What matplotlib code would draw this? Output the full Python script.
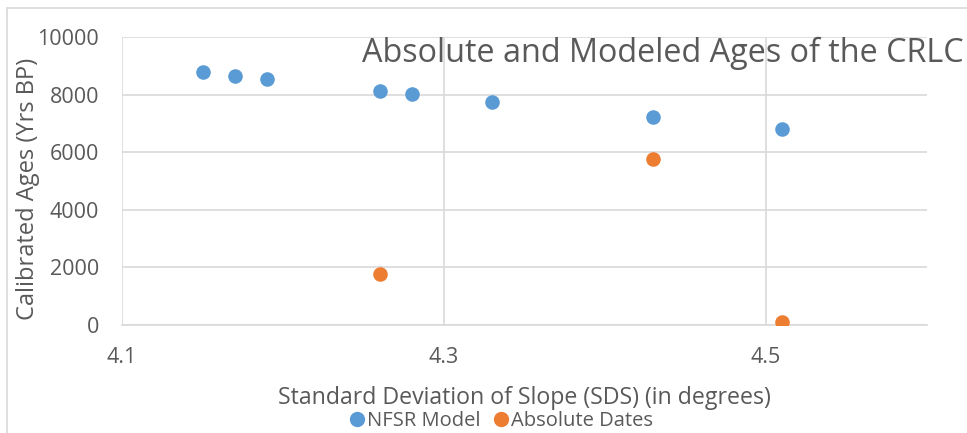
import matplotlib
matplotlib.use("Agg")
import matplotlib.pyplot as plt
from matplotlib.patches import Rectangle
from matplotlib.lines import Line2D

nfsr_x = [4.15, 4.17, 4.19, 4.26, 4.28, 4.33, 4.43, 4.51]
nfsr_y = [8780, 8640, 8540, 8120, 8010, 7740, 7210, 6800]
abs_x = [4.26, 4.43, 4.51]
abs_y = [1780, 5750, 110]
x_ticks = [4.1, 4.3, 4.5]
y_ticks = [0, 2000, 4000, 6000, 8000, 10000]

BLUE = "#5B9BD5"
ORANGE = "#ED7D31"
GRID = "#D9D9D9"
TXT = "#595959"

plt.rcParams['font.family'] = ['Open Sans', 'DejaVu Sans']

W, H = 967, 433
fig = plt.figure(figsize=(W/100, H/100), dpi=100)
fig.patches.append(Rectangle((7/W, -0.1), 1.2, (H-8)/H + 0.1, transform=fig.transFigure,
                             fill=False, edgecolor=GRID, linewidth=1.2, zorder=0))

ax = fig.add_axes([122/W, 1-325/H, (927-122)/W, (325-37)/H])
ax.scatter(nfsr_x, nfsr_y, s=110, color=BLUE, zorder=3, label="NFSR Model", linewidths=0)
ax.scatter(abs_x, abs_y, s=110, color=ORANGE, zorder=3, label="Absolute Dates", linewidths=0)
ax.set_xlim(4.1, 4.6)
ax.set_ylim(0, 10000)
ax.set_xticks(x_ticks)
ax.set_xticklabels([f"{v:.1f}" for v in x_ticks])
ax.set_yticks(y_ticks)
ax.set_yticklabels([str(v) for v in y_ticks])
ax.grid(True, color=GRID, linewidth=1.2)
ax.set_axisbelow(True)
for s in ['top', 'right', 'left']:
    ax.spines[s].set_visible(False)
ax.spines['bottom'].set_color(GRID)
ax.spines['bottom'].set_linewidth(1.2)
ax.tick_params(length=0, labelsize=15.5, labelcolor=TXT)
ax.tick_params(axis='x', pad=16)
ax.tick_params(axis='y', pad=16.5)
ax.set_xlabel("Standard Deviation of Slope (SDS) (in degrees)", fontsize=16.7, color=TXT, labelpad=12.5)
ax.set_ylabel("Calibrated Ages (Yrs BP)", fontsize=17, color=TXT)
ax.yaxis.label.set_va('center')
ax.yaxis.set_label_coords((28-122)/805, (325-189)/288)

fig.text(362/W, 1-62/H, "Absolute and Modeled Ages of the CRLC", fontsize=23.3, color=TXT,
         ha='left', va='baseline')

handles = [Line2D([], [], marker='o', linestyle='', color=BLUE, markersize=10),
           Line2D([], [], marker='o', linestyle='', color=ORANGE, markersize=10)]
fig.legend(handles, ["NFSR Model", "Absolute Dates"], loc='center', bbox_to_anchor=(500/W, 1-421/H),
           ncol=2, frameon=False, fontsize=14.5, labelcolor=TXT, handletextpad=0.0,
           columnspacing=0.5, handlelength=1.0, borderpad=0)

fig.savefig("out.png", dpi=100)
